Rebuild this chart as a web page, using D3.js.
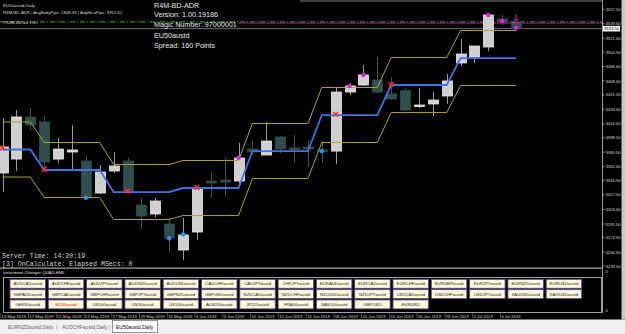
<!DOCTYPE html>
<html>
<head>
<meta charset="utf-8">
<script src="https://cdn.jsdelivr.net/npm/d3@7/dist/d3.min.js"></script>
<style>
  html, body { margin: 0; padding: 0; background: #000; overflow: hidden; }
  svg { display: block; }
  text { font-family: "Liberation Sans", Arial, sans-serif; }
  .mono { font-family: "Liberation Mono", "DejaVu Sans Mono", monospace; }
</style>
</head>
<body>
<svg id="chart" width="625" height="334"></svg>
<script>
// --- data (EU50austd, Daily) ---
const dates = [
  "15 May 2019","16 May 2019","17 May 2019","20 May 2019","21 May 2019","22 May 2019","23 May 2019","24 May 2019",
  "27 May 2019","28 May 2019","29 May 2019","30 May 2019","31 May 2019","3 Jun 2019","4 Jun 2019","5 Jun 2019",
  "6 Jun 2019","7 Jun 2019","10 Jun 2019","11 Jun 2019","12 Jun 2019","13 Jun 2019","14 Jun 2019","17 Jun 2019",
  "18 Jun 2019","19 Jun 2019","20 Jun 2019","21 Jun 2019","24 Jun 2019","25 Jun 2019","26 Jun 2019","27 Jun 2019",
  "28 Jun 2019","1 Jul 2019","2 Jul 2019","3 Jul 2019","4 Jul 2019","5 Jul 2019"
];
const open  = [3354.7,3372.0,3424.1,3417.9,3372.0,3380.7,3369.5,3329.9,3357.2,3369.5,3315.0,3303.9,3291.5,3259.3,3281.6,3344.8,
               3346.0,3344.8,3384.4,3377.0,3399.3,3385.7,3386.9,3383.2,3381.9,3455.0,3463.7,3469.9,3452.6,3456.6,3437.1,3440.2,
               3450.1,3491.0,3498.4,3510.8,3545.5,3540.5];
const high  = [3422.8,3432.7,3435.2,3425.3,3398.1,3414.1,3377.0,3364.6,3380.7,3373.3,3323.7,3324.1,3299.0,3299.0,3338.6,3355.9,
               3373.3,3391.9,3394.3,3417.9,3400.5,3401.8,3394.3,3394.3,3460.0,3466.2,3488.5,3498.4,3473.6,3460.0,3460.0,3455.0,
               3477.3,3520.7,3512.0,3551.7,3550.4,3541.7];
const low   = [3331.1,3357.2,3408.0,3358.4,3367.1,3358.4,3321.2,3328.7,3354.7,3329.9,3285.3,3299.8,3255.6,3246.9,3271.7,3323.7,
               3325.0,3341.1,3377.0,3376.4,3379.5,3368.3,3362.1,3367.1,3365.8,3451.3,3462.5,3453.8,3445.1,3432.1,3435.2,3425.3,
               3440.2,3487.2,3491.0,3505.8,3538.0,3533.5];
const close = [3386.9,3424.1,3414.1,3368.3,3384.4,3383.2,3325.0,3355.9,3363.4,3331.1,3301.4,3320.0,3274.2,3277.9,3336.1,3342.3,
               3343.5,3373.3,3380.7,3394.3,3384.4,3384.4,3384.4,3381.3,3455.0,3462.5,3476.1,3455.0,3446.4,3432.7,3438.9,3445.1,
               3468.7,3502.1,3512.0,3550.4,3541.7,3533.5];

// weekly ADR band (upper / middle / lower)
const adrUpper = [3417.9,3417.9,3417.9,3392.5,3392.5,3392.5,3392.5,3392.5,3365.2,3365.2,3365.2,3365.2,3365.2,3370.2,3370.2,3370.2,
                  3370.2,3370.2,3416.0,3416.0,3416.0,3416.0,3416.0,3460.6,3460.6,3460.6,3460.6,3460.6,3497.8,3497.8,3497.8,3497.8,
                  3497.8,3531.2,3531.2,3531.2,3531.2,3531.2];
const adrMid   = [3383.8,3383.8,3383.8,3358.4,3358.4,3358.4,3358.4,3358.4,3331.1,3331.1,3331.1,3331.1,3331.1,3336.1,3336.1,3336.1,
                  3336.1,3336.1,3381.9,3381.9,3381.9,3381.9,3381.9,3426.5,3426.5,3426.5,3426.5,3426.5,3463.7,3463.7,3463.7,3463.7,
                  3463.7,3497.1,3497.1,3497.1,3497.1,3497.1];
const adrLower = [3349.7,3349.7,3349.7,3324.3,3324.3,3324.3,3324.3,3324.3,3297.1,3297.1,3297.1,3297.1,3297.1,3302.0,3302.0,3302.0,
                  3302.0,3302.0,3347.9,3347.9,3347.9,3347.9,3347.9,3392.5,3392.5,3392.5,3392.5,3392.5,3429.6,3429.6,3429.6,3429.6,
                  3429.6,3463.1,3463.1,3463.1,3463.1,3463.1];

// signal markers [bar index, price]
const crossMarks   = [[0,3385.7],[3,3359.3],[9,3332.4],[14,3336.7],[24,3427.4],[28,3464.3]];
const blueDots     = [[6,3324.1],[12,3273.8],[13,3278.5],[23,3381.9]];
const magentaDots  = [[17,3373.6],[25,3462.5],[26,3476.1],[35,3550.4],[36,3543.0],[37,3534.7]];
const arrowMark    = [37, 3551.5];

const priceTicks = [3557.5,3539.6,3521.6,3504.5,3486.6,3468.6,3451.5,3433.6,3415.6,3398.5,3380.5,3362.6,
                    3345.5,3327.5,3309.6,3291.5,3274.5,3256.6,3239.5];
const bid = 3533.5;
const greenLevel = 3542.0;
const magentaLevel = 3540.4;

const infoLines = ["R4M-BD-ADR","Version: 1.00.19186","Magic Number: 97000001"];
const symbolLines = ["EU50austd","Spread: 160 Points"];
const headerLines = ["EU50austd,Daily","R4M-BD-ADR | AvgBodyPips: 1849.36 | AvgHiLoPips: 3912.62","#R4M-BD.ad 1.00"];
const logLines = ["Server Time: 14:20:19","[3] OnCalculate: Elapsed MSecs: 0"];

const buttonRows = [
  ["AUDCADaustd","AUDCHFaustd","AUDJPYaustd","AUDNZDaustd","AUDUSDaustd","CADCHFaustd","CADJPYaustd","CHFJPYaustd",
   "EURAUDaustd","EURCADaustd","EURCHFaustd","EURGBPaustd","EURJPYaustd","EURNZDaustd","EURUSDaustd"],
  ["GBPAUDaustd","GBPCADaustd","GBPCHFaustd","GBPJPYaustd","GBPNZDaustd","GBPUSDaustd","NZDCADaustd","NZDCHFaustd",
   "NZDUSDaustd","NZDJPYaustd","USDCADaustd","USDCHFaustd","USDJPYaustd","XAUUSDaustd","XAGUSDaustd"],
  ["GER30austd","EU50austd","US500austd","US30austd","UK100austd","AUS200austd","JP225austd","FRA40austd",
   "NAS100austd","GBPUSD","EURUSD"]
];
const activeSymbol = "EU50austd";
const tabs = ["EURNZDaustd,Daily","AUDCHFaustd,Daily","EU50austd,Daily"];

// --- layout ---
const W = 625, H = 334;
const plotRight = 602, plotBottom = 267.7;
const svg = d3.select("#chart");

svg.append("rect").attr("width", W).attr("height", H).attr("fill", "#000");

const x = d3.scalePoint().domain(dates).range([2.6, 516.1]);
const y = d3.scaleLinear().domain([3237.4, 3569.0]).range([plotBottom, 0]);

const defs = svg.append("defs");
defs.append("clipPath").attr("id", "plotClip")
  .append("rect").attr("x", 0).attr("y", 0).attr("width", plotRight).attr("height", plotBottom);

const plot = svg.append("g").attr("clip-path", "url(#plotClip)");

// horizontal level lines
plot.append("line")
  .attr("x1", 0).attr("x2", plotRight).attr("y1", y(greenLevel)).attr("y2", y(greenLevel))
  .attr("stroke", "#2e8b2e").attr("stroke-width", 1.2).attr("stroke-dasharray", "5,2,1,2");
plot.append("line")
  .attr("x1", 238).attr("x2", plotRight).attr("y1", y(magentaLevel)).attr("y2", y(magentaLevel))
  .attr("stroke", "#a020a0").attr("stroke-width", 1);
plot.append("line")
  .attr("x1", 0).attr("x2", plotRight).attr("y1", y(bid)).attr("y2", y(bid))
  .attr("stroke", "#707070").attr("stroke-width", 1);
plot.append("line")
  .attr("x1", 300).attr("x2", plotRight).attr("y1", 1).attr("y2", 1)
  .attr("stroke", "#808080").attr("stroke-width", 1);

// candles
const bars = dates.map((d, i) => ({ d, o: open[i], h: high[i], l: low[i], c: close[i] }));
const bodyW = 10;
const candle = plot.append("g").selectAll("g").data(bars).join("g");
candle.append("line")
  .attr("x1", b => Math.round(x(b.d)) + 0.5).attr("x2", b => Math.round(x(b.d)) + 0.5)
  .attr("y1", b => y(b.h)).attr("y2", b => y(b.l))
  .attr("stroke", b => b.c >= b.o ? "#9a9a9a" : "#3d5656").attr("stroke-width", 1);
candle.append("rect")
  .attr("x", b => Math.round(x(b.d)) + 0.5 - bodyW / 2)
  .attr("y", b => y(Math.max(b.o, b.c)))
  .attr("width", bodyW)
  .attr("height", b => Math.max(1.5, Math.abs(y(b.o) - y(b.c))))
  .attr("fill", b => b.c >= b.o ? "#d0d0d0" : "#2f4f4f")
  .attr("stroke", b => b.c >= b.o ? "#e8e8e8" : "#2f4f4f")
  .attr("stroke-width", 0.8);

// ADR band lines
const line = d3.line().x((v, i) => x(dates[i])).y(v => y(v));
plot.append("path").datum(adrUpper).attr("d", line)
  .attr("fill", "none").attr("stroke", "#aaa52a").attr("stroke-width", 1);
plot.append("path").datum(adrLower).attr("d", line)
  .attr("fill", "none").attr("stroke", "#aaa52a").attr("stroke-width", 1);
plot.append("path").datum(adrMid).attr("d", line)
  .attr("fill", "none").attr("stroke", "#3f72e2").attr("stroke-width", 1.8);

// markers
plot.append("g").selectAll("path").data(crossMarks).join("path")
  .attr("d", m => {
    const cx = x(dates[m[0]]), cy = y(m[1]), r = 2.4;
    return `M${cx - r},${cy - r}L${cx + r},${cy + r}M${cx - r},${cy + r}L${cx + r},${cy - r}`;
  })
  .attr("stroke", "#ff2a2a").attr("stroke-width", 1.5);
plot.append("g").selectAll("circle").data(blueDots).join("circle")
  .attr("cx", m => x(dates[m[0]])).attr("cy", m => y(m[1])).attr("r", 2.2).attr("fill", "#2f8fff");
plot.append("g").selectAll("circle").data(magentaDots).join("circle")
  .attr("cx", m => x(dates[m[0]])).attr("cy", m => y(m[1])).attr("r", 2.2).attr("fill", "#e21ee2");
{
  const ax = x(dates[arrowMark[0]]), ay = y(arrowMark[1]);
  plot.append("path")
    .attr("d", `M${ax},${ay}L${ax},${ay + 7}M${ax - 2.5},${ay + 4.5}L${ax},${ay + 7}L${ax + 2.5},${ay + 4.5}M${ax - 4},${ay + 8.5}L${ax + 4},${ay + 8.5}`)
    .attr("fill", "none").attr("stroke", "#e21ee2").attr("stroke-width", 1);
}

// text overlays
const hdr = svg.append("g").attr("fill", "#d8d8d8").attr("font-size", 4.3);
hdr.selectAll("text").data(headerLines).join("text")
  .attr("x", 3).attr("y", (d, i) => [7, 13.5, 24][i]).text(d => d);

const info = svg.append("g").attr("fill", "#e8e8e8").attr("font-size", 7.2);
info.selectAll("text").data(infoLines).join("text")
  .attr("x", 154).attr("y", (d, i) => 7.5 + i * 9.6).text(d => d);
info.append("g").selectAll("text").data(symbolLines).join("text")
  .attr("x", 154).attr("y", (d, i) => 38 + i * 9.6).text(d => d);

svg.append("g").attr("fill", "#d0d0d0").attr("font-size", 6.6)
  .selectAll("text").data(logLines).join("text")
  .attr("class", "mono")
  .attr("x", 2).attr("y", (d, i) => 257.5 + i * 8.5).text(d => d);

// right price axis
svg.append("line").attr("x1", plotRight + 0.5).attr("x2", plotRight + 0.5).attr("y1", 0).attr("y2", 313)
  .attr("stroke", "#9a9a9a").attr("stroke-width", 1);
const pax = svg.append("g");
pax.selectAll("line").data(priceTicks).join("line")
  .attr("x1", plotRight).attr("x2", plotRight + 2.5).attr("y1", v => y(v)).attr("y2", v => y(v))
  .attr("stroke", "#bbb").attr("stroke-width", 0.8);
pax.selectAll("text").data(priceTicks).join("text")
  .attr("x", plotRight + 3.5).attr("y", v => y(v) + 1.5)
  .attr("font-size", 4.2).attr("fill", "#d8d8d8").text(v => v.toFixed(2));
pax.append("rect").attr("x", plotRight + 1).attr("y", y(bid) - 2.8).attr("width", 17).attr("height", 5.6).attr("fill", "#fff");
pax.append("text").attr("x", plotRight + 2).attr("y", y(bid) + 1.5).attr("font-size", 4.2).attr("fill", "#000").text(bid.toFixed(2));

// separator between main chart and sub-window
svg.append("line").attr("x1", 0).attr("x2", plotRight).attr("y1", plotBottom + 0.5).attr("y2", plotBottom + 0.5)
  .attr("stroke", "#a0a0a0").attr("stroke-width", 1.2);

// sub-window: instrument changer
svg.append("text").attr("x", 3).attr("y", 274).attr("font-size", 4.3).attr("fill", "#e0e0e0")
  .text("Instrument Changer QUAD.HML");
svg.append("text").attr("x", plotRight + 3.5).attr("y", 273).attr("font-size", 4.2).attr("fill", "#d8d8d8").text("0");
svg.append("text").attr("x", plotRight + 3.5).attr("y", 312).attr("font-size", 4.2).attr("fill", "#d8d8d8").text("0");
svg.append("rect").attr("x", 3.5).attr("y", 277.5).attr("width", 598).attr("height", 35)
  .attr("fill", "none").attr("stroke", "#c8c8c8").attr("stroke-width", 0.8);

const btnX0 = 10, btnStep = 38.3, btnW = 35.5, btnH = 9;
const rowY = [279.3, 289.6, 299.9];
buttonRows.forEach((row, r) => {
  const g = svg.append("g").selectAll("g").data(row).join("g")
    .attr("transform", (d, i) => `translate(${btnX0 + i * btnStep},${rowY[r]})`);
  g.append("rect").attr("width", btnW).attr("height", btnH)
    .attr("fill", "#fdf9d8").attr("stroke", "#5a4a86").attr("stroke-width", 0.9);
  g.append("text").attr("x", btnW / 2).attr("y", btnH / 2 + 1.5).attr("text-anchor", "middle")
    .attr("font-size", 4.3).attr("fill", d => d === activeSymbol ? "#e01010" : "#1c1c3c").text(d => d);
});

// date axis
const dateLabels = dates.filter((d, i) => i % 2 === 0);
svg.append("g").selectAll("text").data(dateLabels).join("text")
  .attr("x", d => x(d) - 1).attr("y", 317.5).attr("font-size", 4.2).attr("fill", "#d0d0d0").text(d => d);
svg.append("g").selectAll("line").data(dateLabels).join("line")
  .attr("x1", d => x(d) - 1.8).attr("x2", d => x(d) - 1.8).attr("y1", 313).attr("y2", 318)
  .attr("stroke", "#888").attr("stroke-width", 0.6);

// bottom tabs
svg.append("rect").attr("x", 0).attr("y", 319.5).attr("width", W).attr("height", H - 319.5).attr("fill", "#f0f0f0");
const tabX = [8, 62, 116];
svg.append("rect").attr("x", 112.5).attr("y", 320.5).attr("width", 45).attr("height", 12)
  .attr("fill", "#fff").attr("stroke", "#7a7a7a").attr("stroke-width", 0.8);
svg.append("g").selectAll("text").data(tabs).join("text")
  .attr("x", (d, i) => tabX[i]).attr("y", 328.5).attr("font-size", 5)
  .attr("fill", (d, i) => i === 2 ? "#000" : "#666").text(d => d);
svg.append("g").selectAll("text").data([56, 109]).join("text")
  .attr("x", v => v).attr("y", 328.5).attr("font-size", 5).attr("fill", "#888").text("|");

// window border on the right
svg.append("rect").attr("x", 621.5).attr("y", 0).attr("width", 3.5).attr("height", 319.5).attr("fill", "#c8c8c8");
</script>
</body>
</html>
